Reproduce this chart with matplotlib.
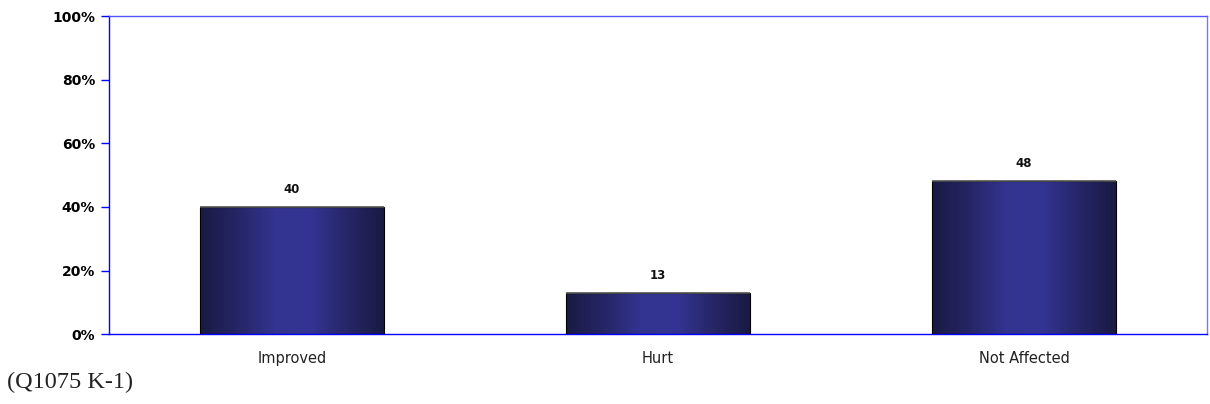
import matplotlib
matplotlib.use('Agg')
import matplotlib.pyplot as plt
import numpy as np
from matplotlib.colors import LinearSegmentedColormap
from matplotlib.ticker import FuncFormatter

categories = ['Improved', 'Hurt', 'Not Affected']
values = [40, 13, 48]
footnote = '(Q1075 K-1)'

fig = plt.figure(figsize=(12.1, 4.04), dpi=100)
ax = fig.add_axes([0.090, 0.173, 0.9075, 0.787])

# dark edges, brighter middle
grad = LinearSegmentedColormap.from_list(
    'bar', ['#1a1a44', '#252566', '#333390', '#343494', '#262668', '#1a1a44'])
xs = np.arange(len(categories))
width = 0.502
bars = ax.bar(xs, values, width=width, color='none', edgecolor='black',
              linewidth=0.8, zorder=3)
strip = np.linspace(0, 1, 256).reshape(1, -1)
for b in bars:
    x0, y0 = b.get_x(), b.get_y()
    im = ax.imshow(strip, cmap=grad, aspect='auto', zorder=2,
                   extent=[x0, x0 + b.get_width(), y0, y0 + b.get_height()])
    im.set_clip_path(b)
    # top edge is a lighter grey in the original
    ax.plot([x0, x0 + b.get_width()], [b.get_height()] * 2, color='#555555',
            lw=1.2, zorder=4, solid_capstyle='butt')
    ax.text(b.get_x() + b.get_width() / 2, b.get_height() + 3.5,
            f'{b.get_height():.0f}', ha='center', va='bottom',
            fontsize=8.5, fontweight='bold', color='#111111')

ax.set_xlim(-0.5, len(categories) - 0.5)
ax.set_ylim(0, 100)
ax.set_yticks(np.arange(0, 101, 20))
ax.yaxis.set_major_formatter(FuncFormatter(lambda v, p: f'{v:.0f}%'))
ax.set_xticks(xs)
ax.set_xticklabels(categories, fontsize=10.5, color='#222222')
ax.tick_params(axis='x', length=0, pad=12)
ax.tick_params(axis='y', length=6, width=1, color='#0000ff', labelsize=10, pad=4)
for lab in ax.get_yticklabels():
    lab.set_fontweight('bold')
for s in ax.spines.values():
    s.set_color('#0000ff')
    s.set_linewidth(1)
ax.spines['top'].set_color('#5555ff')
ax.spines['right'].set_color('#7777ff')

fig.text(0.006, 0.028, footnote, fontsize=17.5, family='Liberation Serif',
         ha='left', va='bottom', color='#222222')

fig.savefig('out.png', dpi=100)
